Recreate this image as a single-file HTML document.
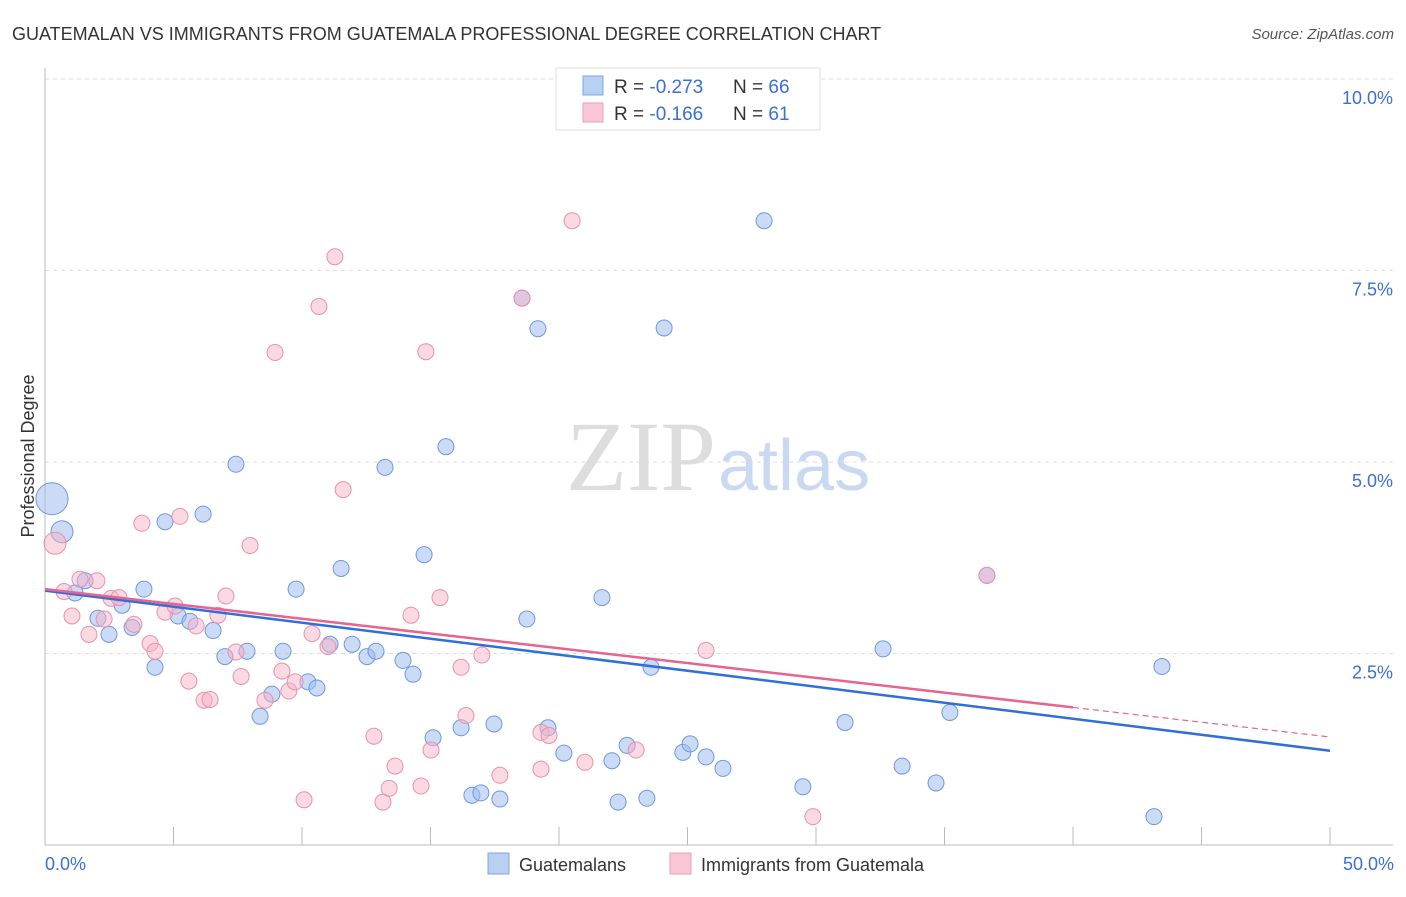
<!DOCTYPE html>
<html><head><meta charset="utf-8"><style>
body{margin:0;background:#fff;font-family:"Liberation Sans",sans-serif}
svg text{font-family:"Liberation Sans",sans-serif}
</style></head><body>
<svg id="chart" width="1406" height="892">
<text x="12" y="40" font-size="18" fill="#333">GUATEMALAN VS IMMIGRANTS FROM GUATEMALA PROFESSIONAL DEGREE CORRELATION CHART</text>
<text x="1394" y="39" font-size="15" fill="#555" font-style="italic" text-anchor="end">Source: ZipAtlas.com</text>
<g id="grid"></g>
<text x="716" y="490" font-size="100" fill="#ddd" text-anchor="end" style="font-family:'Liberation Serif',serif">ZIP</text>
<text x="718" y="490" font-size="72" fill="#c9d9f2">atlas</text>
<g id="pts"></g>
<g id="lines"></g>
<text transform="translate(34,456) rotate(-90)" font-size="18" fill="#333" text-anchor="middle">Professional Degree</text>
<text x="45" y="870" font-size="18" fill="#3b6fd4">0.0%</text>
<text x="1394" y="870" font-size="18" fill="#3b6fd4" text-anchor="end">50.0%</text>
<g>
<rect x="556" y="68" width="264" height="62" fill="#fff" stroke="#ddd"/>
<rect x="583" y="76" width="20" height="19" fill="#b8d0f2" stroke="#7fa4e0"/>
<rect x="583" y="103" width="20" height="19" fill="#f8c6d4" stroke="#eba0b8"/>
<text x="614" y="93" font-size="19" fill="#333">R = <tspan fill="#3b6fd4">-0.273</tspan><tspan x="733">N = </tspan><tspan fill="#3b6fd4">66</tspan></text>
<text x="614" y="120" font-size="19" fill="#333">R =  <tspan fill="#3b6fd4">-0.166</tspan><tspan x="733">N =  </tspan><tspan fill="#3b6fd4">61</tspan></text>
</g>
<g>
<rect x="488" y="853" width="21" height="21" fill="#b8d0f2" stroke="#7fa4e0"/>
<text x="519" y="871" font-size="18" fill="#333">Guatemalans</text>
<rect x="670" y="853" width="21" height="21" fill="#f8c6d4" stroke="#eba0b8"/>
<text x="701" y="871" font-size="18" fill="#333">Immigrants from Guatemala</text>
</g>
</svg>
<script>
const yTicks=[2.5,5,7.5,10];
const yTickLabels=["2.5%","5.0%","7.5%","10.0%"];
const xTicks=[0,5,10,15,20,25,30,35,40,45,50];
const blueX=[.27,.66,1.17,1.56,2.06,2.49,3.00,3.39,3.85,4.28,4.67,5.18,5.64,6.15,6.54,7.00,7.43,7.86,8.37,8.83,9.26,9.77,10.23,10.58,11.09,11.52,11.95,12.53,12.88,13.23,13.93,14.32,14.75,15.10,15.60,16.19,16.61,16.96,17.47,17.70,18.75,19.18,19.57,20.19,21.67,22.06,22.30,22.65,23.42,23.58,24.09,24.82,25.10,25.72,26.38,27.98,29.49,31.13,32.61,33.35,34.67,35.21,43.15,43.46,18.56,36.65];
const blueY=[4.52,4.09,3.29,3.45,2.96,2.75,3.13,2.84,3.34,2.32,4.22,2.99,2.92,4.32,2.80,2.46,4.97,2.53,1.68,1.97,2.53,3.34,2.13,2.05,2.62,3.61,2.62,2.46,2.53,4.93,2.41,2.23,3.79,1.40,5.20,1.53,.65,.68,1.58,.60,2.95,6.74,1.53,1.20,3.23,1.10,.56,1.30,.61,2.32,6.75,1.21,1.32,1.15,1.00,8.15,.76,1.60,2.56,1.03,.81,1.73,.37,2.33,7.14,3.52];
const blueR=[16,11];
const pinkX=[.39,.74,1.05,1.36,1.71,2.02,2.30,2.57,2.88,3.46,3.77,4.09,4.28,4.67,5.06,5.25,5.60,5.88,6.19,6.42,6.73,7.04,7.43,7.63,7.98,8.56,8.95,9.22,9.49,9.73,10.08,10.39,10.66,11.01,11.28,11.60,12.80,13.15,13.39,13.62,14.24,14.63,14.82,15.02,15.37,16.19,16.38,17.00,17.70,18.56,19.30,19.30,19.61,20.51,21.01,23.00,25.72,29.88,36.65];
const pinkY=[3.94,3.31,2.99,3.47,2.75,3.45,2.95,3.22,3.23,2.88,4.20,2.63,2.53,3.04,3.12,4.29,2.14,2.86,1.89,1.90,3.00,3.25,2.52,2.20,3.91,1.89,6.43,2.27,2.01,2.13,.59,2.76,7.03,2.59,7.68,4.64,1.42,.56,.74,1.03,3.00,.77,6.44,1.24,3.23,2.32,1.69,2.48,.91,7.14,.99,1.47,1.43,8.15,1.08,1.24,2.54,.37,3.52];
const pinkR=[11];
const blueTrend=[3.32,1.23];
const pinkTrend=[3.34,1.41];
const pinkSolidEnd=40;
const NS="http://www.w3.org/2000/svg";
const X=v=>45+v*25.7, Y=v=>845-v*76.6;
function mk(t,a,p){const e=document.createElementNS(NS,t);for(const k in a)e.setAttribute(k,a[k]);p.appendChild(e);return e;}
const grid=document.getElementById('grid');
yTicks.forEach((t,i)=>{
 const l=mk('line',{x1:45,x2:1393,y1:Y(t),y2:Y(t),stroke:'#ddd','stroke-dasharray':'4,4'},grid);
 
 
 const tx=mk('text',{x:1393,y:Y(t)+25,'font-size':18,fill:'#3b6fd4','text-anchor':'end'},grid);
 tx.textContent=yTickLabels[i];
 
 
});
mk('line',{x1:45,x2:1393,y1:79,y2:79,stroke:'#ddd','stroke-dasharray':'4,4'},grid);
mk('line',{x1:45,x2:45,y1:68,y2:845,stroke:'#bbb'},grid);
mk('line',{x1:45,x2:1393,y1:845,y2:845,stroke:'#bbb'},grid);
xTicks.forEach(t=>{
 const l=mk('line',{x1:X(t),x2:X(t),y1:827,y2:845,stroke:'#bbb'},grid);
 
 
});
const pts=document.getElementById('pts');
blueX.forEach((v,i)=>{
 const c=mk('circle',{cx:X(v),cy:Y(blueY[i]),r:blueR[i]||8,fill:'rgba(160,190,238,0.55)',stroke:'#6f98de','stroke-width':1},pts);
 
 
});
pinkX.forEach((v,i)=>{
 const c=mk('circle',{cx:X(v),cy:Y(pinkY[i]),r:pinkR[i]||8,fill:'rgba(246,180,200,0.5)',stroke:'#e891ad','stroke-width':1},pts);
 
 
});
const lines=document.getElementById('lines');
const b=mk('line',{x1:X(0),y1:Y(blueTrend[0]),x2:X(50),y2:Y(blueTrend[1]),stroke:'#2f6fd6','stroke-width':2.5},lines);


const pe=pinkTrend[0]+(pinkTrend[1]-pinkTrend[0])*pinkSolidEnd/50;
const p=mk('line',{x1:X(0),y1:Y(pinkTrend[0]),x2:X(pinkSolidEnd),y2:Y(pe),stroke:'#e8638f','stroke-width':2.5},lines);


const pd=mk('line',{x1:X(pinkSolidEnd),y1:Y(pe),x2:X(50),y2:Y(pinkTrend[1]),stroke:'#e8638f','stroke-width':1.2,'stroke-dasharray':'6,4'},lines);


</script>
</body></html>
